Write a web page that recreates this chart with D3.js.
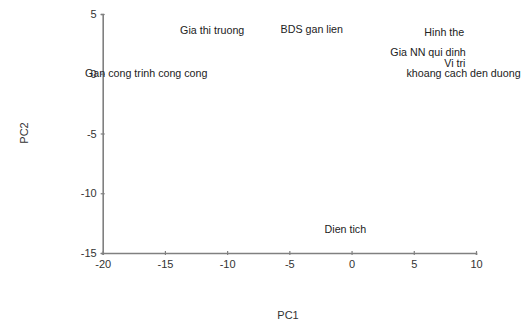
<!DOCTYPE html>
<html>
<head>
<meta charset="utf-8">
<script src="https://cdn.jsdelivr.net/npm/d3@7"></script>
<style>
  body { margin: 0; background: #fff; }
  text { font-family: Arial, "Liberation Sans", sans-serif; }
</style>
</head>
<body>
<div id="chart"></div>
<script>
// loadings on the first two components
let labels = ["Gia thi truong", "Gan cong trinh cong cong", "BDS gan lien", "Hinh the",
              "Gia NN qui dinh", "Vi tri", "khoang cach den duong", "Dien tich"];
let pc1 = [-11.2, -16.5, -3.2, 7.45, 6.15, 8.3, 9.0, -0.5];
let pc2 = [3.65, 0.0, 3.75, 3.5, 1.8, 0.9, 0.05, -13.0];
let xTicks = [-20, -15, -10, -5, 0, 5, 10];
let yTicks = [-15, -10, -5, 0, 5];

let width = 521, height = 322;
let margin = {top: 14, right: 45, bottom: 69, left: 102.7};
let w = width - margin.left - margin.right;
let h = height - margin.top - margin.bottom;

let svg = d3.select("#chart").append("svg")
    .attr("width", width)
    .attr("height", height);

let g = svg.append("g")
    .attr("transform", "translate(" + margin.left + "," + margin.top + ")");

let x = d3.scaleLinear().domain([-20, 10]).range([0, w]);
let y = d3.scaleLinear().domain([-15, 5]).range([h, 0]);

// axes (plain hyphen for negatives, like the original)
let fmt = d => String(d);

let xAxis = g.append("g")
    .attr("transform", "translate(0," + h + ")")
    .call(d3.axisBottom(x).tickValues(xTicks).tickSize(2).tickPadding(5).tickFormat(fmt));

let yAxis = g.append("g")
    .call(d3.axisLeft(y).tickValues(yTicks).tickSize(2).tickPadding(4).tickFormat(fmt));

[xAxis, yAxis].forEach(a => {
    a.select(".domain").attr("stroke", "#808080").attr("stroke-width", 1.6);
    a.selectAll(".tick line").attr("stroke", "#808080").attr("stroke-width", 1.2);
    a.selectAll(".tick text").attr("fill", "#333").attr("font-size", 11)
        .style("font-family", "Arial, 'Liberation Sans', sans-serif");
});
// ticks cross the axis line
xAxis.selectAll(".tick line").attr("y1", -2).attr("y2", 2);
yAxis.selectAll(".tick line").attr("x1", -2).attr("x2", 2);

// point labels
let pts = labels.map((d, i) => ({name: d, x: pc1[i], y: pc2[i]}));
g.selectAll(".lbl")
    .data(pts)
    .enter().append("text")
    .attr("class", "lbl")
    .attr("x", d => x(d.x))
    .attr("y", d => y(d.y))
    .attr("dy", "0.35em")
    .attr("text-anchor", "middle")
    .attr("font-size", 10.7)
    .attr("fill", "#222")
    .text(d => d.name);

// axis titles
svg.append("text")
    .attr("x", 288)
    .attr("y", 319)
    .attr("text-anchor", "middle")
    .attr("font-size", 11)
    .attr("fill", "#333")
    .text("PC1");

svg.append("text")
    .attr("transform", "translate(28,133) rotate(-90)")
    .attr("text-anchor", "middle")
    .attr("font-size", 11)
    .attr("fill", "#333")
    .text("PC2");
</script>
</body>
</html>
